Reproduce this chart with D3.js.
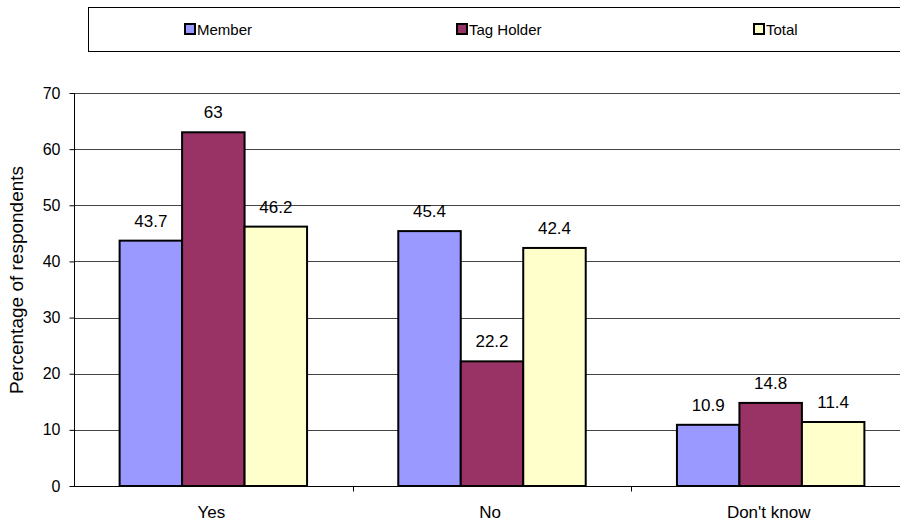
<html>

<head>
    <meta charset="utf-8">
    <script src="https://d3js.org/d3.v7.min.js"></script>
</head>

<body style="margin:0">
    <script>

        // data
        var categories = ["Yes", "No", "Don't know"];
        var seriesNames = ["Member", "Tag Holder", "Total"];
        var member = [43.7, 45.4, 10.9];
        var tagHolder = [63, 22.2, 14.8];
        var total = [46.2, 42.4, 11.4];
        var yTicks = [0, 10, 20, 30, 40, 50, 60, 70];
        var colors = ["#9999ff", "#993366", "#ffffcc"];

        var values = [member, tagHolder, total];

        var width = 900;
        var height = 524;
        var plotLeft = 74, plotTop = 93, plotBottom = 486, plotRight = 910;
        var font = "Liberation Sans, Arial, sans-serif";

        var svg = d3.select("body").append("svg")
            .attr("width", width).attr("height", height)
            .style("font-family", font);

        // scales
        var x0 = d3.scaleBand().domain(categories).range([plotLeft, plotRight]);
        var x1 = d3.scaleBand().domain(seriesNames)
            .range([0, x0.bandwidth()]).paddingOuter(0.73);
        var y = d3.scaleLinear().domain([0, 70]).range([plotBottom, plotTop]);

        // gridlines
        svg.append("g")
            .selectAll("line")
            .data(yTicks.slice(1))
            .enter()
            .append("line")
            .attr("x1", plotLeft).attr("x2", width)
            .attr("y1", function(d) { return Math.round(y(d)) + 0.5; })
            .attr("y2", function(d) { return Math.round(y(d)) + 0.5; })
            .attr("stroke", "#444");

        // y axis
        var yAxis = svg.append("g")
            .attr("transform", "translate(" + (plotLeft + 0.5) + ",0)")
            .call(d3.axisLeft(y).tickValues(yTicks).tickSize(5).tickPadding(9));
        yAxis.select(".domain").attr("d", "M0," + plotTop + "V" + plotBottom);
        yAxis.selectAll("text").style("font-size", "16px").style("font-family", font).attr("fill", "#000");

        // x axis
        var xAxis = svg.append("g")
            .attr("transform", "translate(0," + (plotBottom + 0.5) + ")");
        xAxis.append("line")
            .attr("x1", plotLeft).attr("x2", width).attr("stroke", "#000");
        xAxis.selectAll(".tk")
            .data(categories.slice(1))
            .enter()
            .append("line")
            .attr("x1", function(d) { return Math.round(x0(d)) + 0.5; })
            .attr("x2", function(d) { return Math.round(x0(d)) + 0.5; })
            .attr("y1", 0).attr("y2", 5)
            .attr("stroke", "#000");
        xAxis.selectAll("text")
            .data(categories)
            .enter()
            .append("text")
            .attr("x", function(d) { return x0(d) + x0.bandwidth() / 2 - 2; })
            .attr("y", 31)
            .attr("text-anchor", "middle")
            .style("font-size", "17px")
            .text(function(d) { return d; });

        // y axis title
        svg.append("text")
            .attr("transform", "translate(23,280) rotate(-90)")
            .attr("text-anchor", "middle")
            .style("font-size", "19px")
            .text("Percentage of respondents");

        // bars
        var groups = svg.append("g")
            .selectAll("g")
            .data(categories)
            .enter()
            .append("g")
            .attr("transform", function(d) { return "translate(" + x0(d) + ",0)"; });

        groups.selectAll("rect")
            .data(function(d, i) {
                return seriesNames.map(function(s, j) { return { s: s, j: j, v: values[j][i] }; });
            })
            .enter()
            .append("rect")
            .attr("x", function(d) { return x1(d.s); })
            .attr("y", function(d) { return y(d.v); })
            .attr("width", x1.bandwidth())
            .attr("height", function(d) { return plotBottom - y(d.v); })
            .attr("fill", function(d) { return colors[d.j]; })
            .attr("stroke", "#000")
            .attr("stroke-width", 2);

        groups.selectAll("text")
            .data(function(d, i) {
                return seriesNames.map(function(s, j) { return { s: s, j: j, v: values[j][i] }; });
            })
            .enter()
            .append("text")
            .attr("x", function(d) { return x1(d.s) + x1.bandwidth() / 2; })
            .attr("y", function(d) { return y(d.v) - 14; })
            .attr("text-anchor", "middle")
            .style("font-size", "17px")
            .text(function(d) { return d.v; });

        // legend
        svg.append("rect")
            .attr("x", 88.5).attr("y", 7.5)
            .attr("width", 830).attr("height", 44)
            .attr("fill", "none").attr("stroke", "#000");

        var legendX = [185, 457, 754];
        var legend = svg.append("g")
            .selectAll("g")
            .data(seriesNames)
            .enter()
            .append("g")
            .attr("transform", function(d, i) { return "translate(" + legendX[i] + ",24)"; });
        legend.append("rect")
            .attr("width", 10).attr("height", 10)
            .attr("fill", function(d, i) { return colors[i]; })
            .attr("stroke", "#000").attr("stroke-width", 2);
        legend.append("text")
            .attr("x", 12).attr("y", 11)
            .style("font-size", "15px")
            .text(function(d) { return d; });
    </script>
</body>

</html>
